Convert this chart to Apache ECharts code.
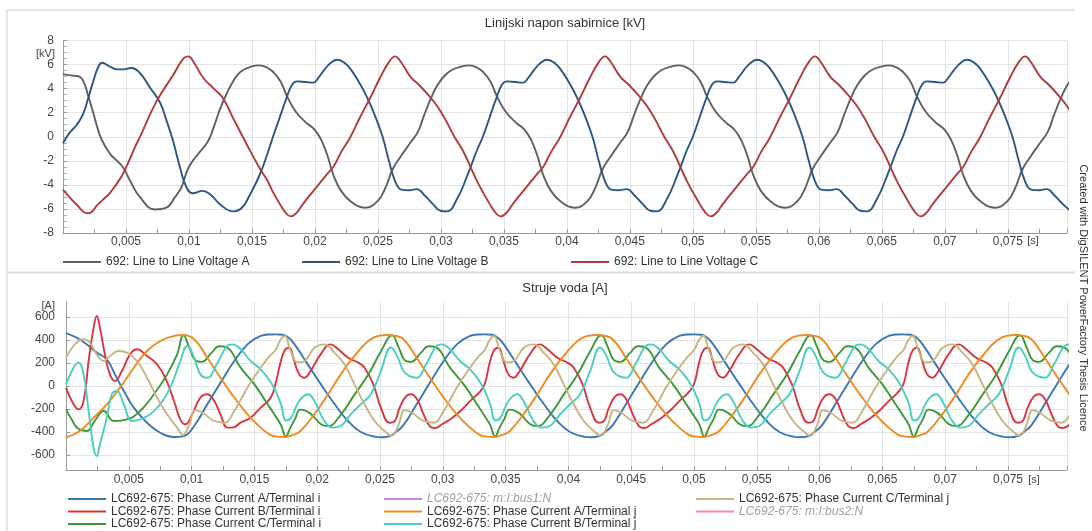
<!DOCTYPE html>
<html>
<head>
<meta charset="utf-8">
<script src="https://cdn.jsdelivr.net/npm/echarts@6/dist/echarts.min.js"></script>
<style>
html,body{margin:0;padding:0;background:#fff;}
#chart{width:1092px;height:531px;}
</style>
</head>
<body>
<div id="chart"></div>
<script>
// ---- text / names ----
const topTitle = 'Linijski napon sabirnice [kV]';
const bottomTitle = 'Struje voda [A]';
const voltNames = ['692: Line to Line Voltage A', '692: Line to Line Voltage B', '692: Line to Line Voltage C'];
const curNames = [
  'LC692-675: Phase Current A/Terminal i', 'LC692-675: Phase Current B/Terminal i', 'LC692-675: Phase Current C/Terminal i',
  'LC692-675: m:I:bus1:N', 'LC692-675: Phase Current A/Terminal j', 'LC692-675: Phase Current B/Terminal j',
  'LC692-675: Phase Current C/Terminal j', 'LC692-675: m:I:bus2:N'
];
const hiddenNames = ['LC692-675: m:I:bus1:N', 'LC692-675: m:I:bus2:N'];
const voltTicks = [-8, -6, -4, -2, 0, 2, 4, 6, 8];
const curTicks = [-600, -400, -200, 0, 200, 400, 600];
const timeUnit = '[s]';

// ---- series values: [time in ms, value] ----
const voltA = [[0,5.2],[0.6,5.1],[1.3,5.0],[1.7,4.4],[2.0,3.4],[2.4,2.0],[2.9,0.2],[3.3,-0.7],[3.8,-1.5],[4.3,-2.0],[4.8,-2.6],[5.3,-3.6],[6.1,-5.0],[7.3,-6.05],[8.2,-5.9],[8.9,-5.0],[9.4,-4.2],[9.95,-2.6],[10.6,-1.6],[11.5,-0.4],[12.0,0.9],[12.5,2.4],[13.0,3.6],[13.5,4.6],[14.1,5.4],[15.0,5.85],[15.6,5.93],[16.2,5.75],
[16.67,5.4],[17.27,4.6],[17.77,3.4],[18.47,2.1],[19.27,1.2],[19.97,0.6],[20.47,-0.2],[20.97,-1.5],[21.47,-3.2],[22.07,-4.5],[22.87,-5.4],[23.97,-5.9],[24.97,-5.35],[25.57,-4.3],[26.17,-2.7],[26.77,-1.7],[27.57,-0.5],[28.17,0.4],[28.67,1.8],[29.17,3.1],[29.67,4.2],[30.27,5.05],[30.87,5.55],[31.67,5.85],[32.27,5.93],[32.87,5.75],
[33.33,5.4],[33.93,4.6],[34.43,3.4],[35.13,2.1],[35.93,1.2],[36.63,0.6],[37.13,-0.2],[37.63,-1.5],[38.13,-3.2],[38.73,-4.5],[39.53,-5.4],[40.63,-5.9],[41.63,-5.35],[42.23,-4.3],[42.83,-2.7],[43.43,-1.7],[44.23,-0.5],[44.83,0.4],[45.33,1.8],[45.83,3.1],[46.33,4.2],[46.93,5.05],[47.53,5.55],[48.33,5.85],[48.93,5.93],[49.53,5.75],
[50,5.4],[50.6,4.6],[51.1,3.4],[51.8,2.1],[52.6,1.2],[53.3,0.6],[53.8,-0.2],[54.3,-1.5],[54.8,-3.2],[55.4,-4.5],[56.2,-5.4],[57.3,-5.9],[58.3,-5.35],[58.9,-4.3],[59.5,-2.7],[60.1,-1.7],[60.9,-0.5],[61.5,0.4],[62.0,1.8],[62.5,3.1],[63.0,4.2],[63.6,5.05],[64.2,5.55],[65.0,5.85],[65.6,5.93],[66.2,5.75],
[66.67,5.4],[67.27,4.6],[67.77,3.4],[68.47,2.1],[69.27,1.2],[69.97,0.6],[70.47,-0.2],[70.97,-1.5],[71.47,-3.2],[72.07,-4.5],[72.87,-5.4],[73.97,-5.9],[74.97,-5.35],[75.57,-4.3],[76.17,-2.7],[76.77,-1.7],[77.57,-0.5],[78.17,0.4],[78.67,1.8],[79.17,3.1],[79.67,4.2],[80.27,5.05]];

const voltB = [[0,-0.55],[0.5,0.3],[1.1,1.0],[1.6,1.9],[2.0,3.2],[2.4,4.6],[2.8,5.8],[3.1,6.15],[3.7,5.85],[4.3,5.6],[4.8,5.6],[5.4,5.72],[6.1,5.3],[6.9,4.1],[7.7,2.85],[8.2,1.4],[8.75,-0.4],[9.3,-2.6],[9.8,-4.2],[10.3,-4.7],[11.1,-4.5],[11.7,-4.8],[12.5,-5.65],[13.5,-6.2],[14.2,-5.9],[14.8,-4.9],[15.6,-3.2],[16.2,-1.5],
[16.67,0.0],[17.17,1.5],[17.67,3.0],[18.17,4.3],[18.57,4.6],[19.27,4.55],[19.87,4.5],[20.27,4.9],[20.77,5.6],[21.27,6.15],[21.77,6.4],[22.27,6.2],[22.77,5.7],[23.57,4.4],[24.17,3.2],[24.67,2.0],[25.37,0.0],[25.87,-2.0],[26.37,-3.7],[26.87,-4.4],[27.47,-4.45],[28.07,-4.35],[28.77,-4.95],[29.37,-5.6],[29.97,-6.15],[30.47,-6.2],[31.27,-5.2],[32.07,-3.3],[32.87,-1.1],
[33.33,0.0],[33.83,1.5],[34.33,3.0],[34.83,4.3],[35.23,4.6],[35.93,4.55],[36.53,4.5],[36.93,4.9],[37.43,5.6],[37.93,6.15],[38.43,6.4],[38.93,6.2],[39.43,5.7],[40.23,4.4],[40.83,3.2],[41.33,2.0],[42.03,0.0],[42.53,-2.0],[43.03,-3.7],[43.53,-4.4],[44.13,-4.45],[44.73,-4.35],[45.43,-4.95],[46.03,-5.6],[46.63,-6.15],[47.13,-6.2],[47.93,-5.2],[48.73,-3.3],[49.53,-1.1],
[50,0.0],[50.5,1.5],[51.0,3.0],[51.5,4.3],[51.9,4.6],[52.6,4.55],[53.2,4.5],[53.6,4.9],[54.1,5.6],[54.6,6.15],[55.1,6.4],[55.6,6.2],[56.1,5.7],[56.9,4.4],[57.5,3.2],[58.0,2.0],[58.7,0.0],[59.2,-2.0],[59.7,-3.7],[60.2,-4.4],[60.8,-4.45],[61.4,-4.35],[62.1,-4.95],[62.7,-5.6],[63.3,-6.15],[63.8,-6.2],[64.6,-5.2],[65.4,-3.3],[66.2,-1.1],
[66.67,0.0],[67.17,1.5],[67.67,3.0],[68.17,4.3],[68.57,4.6],[69.27,4.55],[69.87,4.5],[70.27,4.9],[70.77,5.6],[71.27,6.15],[71.77,6.4],[72.27,6.2],[72.77,5.7],[73.57,4.4],[74.17,3.2],[74.67,2.0],[75.37,0.0],[75.87,-2.0],[76.37,-3.7],[76.87,-4.4],[77.47,-4.45],[78.07,-4.35],[78.77,-4.95],[79.37,-5.6],[79.97,-6.15]];

const voltC = [[0,-4.4],[0.5,-5.0],[1.1,-5.65],[1.9,-6.35],[2.2,-6.3],[2.7,-5.7],[3.2,-5.2],[3.7,-4.7],[4.2,-4.0],[4.7,-3.2],[5.2,-2.1],[5.7,-0.9],[6.2,0.2],[7.4,2.9],[8.76,5.15],[9.55,6.5],[9.95,6.68],[10.34,6.26],[11.14,4.88],[11.93,4.04],[12.7,3.2],[13.5,1.55],[14.6,-0.66],[15.6,-2.6],[16.2,-3.6],
[16.67,-4.6],[17.22,-5.6],[17.67,-6.3],[18.07,-6.62],[18.47,-6.4],[18.97,-5.7],[19.57,-4.9],[20.27,-4.0],[20.97,-3.1],[21.47,-2.5],[22.07,-1.3],[22.77,-0.1],[23.57,1.6],[24.37,3.2],[25.17,4.9],[25.87,6.2],[26.37,6.68],[26.77,6.3],[27.57,5.0],[28.27,4.3],[28.97,3.5],[29.67,2.6],[30.37,1.4],[31.07,0.0],[31.77,-1.2],[32.47,-2.8],[32.97,-3.9],
[33.33,-4.6],[33.88,-5.6],[34.33,-6.3],[34.73,-6.62],[35.13,-6.4],[35.63,-5.7],[36.23,-4.9],[36.93,-4.0],[37.63,-3.1],[38.13,-2.5],[38.73,-1.3],[39.43,-0.1],[40.23,1.6],[41.03,3.2],[41.83,4.9],[42.53,6.2],[43.03,6.68],[43.43,6.3],[44.23,5.0],[44.93,4.3],[45.63,3.5],[46.33,2.6],[47.03,1.4],[47.73,0.0],[48.43,-1.2],[49.13,-2.8],[49.63,-3.9],
[50,-4.6],[50.55,-5.6],[51.0,-6.3],[51.4,-6.62],[51.8,-6.4],[52.3,-5.7],[52.9,-4.9],[53.6,-4.0],[54.3,-3.1],[54.8,-2.5],[55.4,-1.3],[56.1,-0.1],[56.9,1.6],[57.7,3.2],[58.5,4.9],[59.2,6.2],[59.7,6.68],[60.1,6.3],[60.9,5.0],[61.6,4.3],[62.3,3.5],[63.0,2.6],[63.7,1.4],[64.4,0.0],[65.1,-1.2],[65.8,-2.8],[66.3,-3.9],
[66.67,-4.6],[67.22,-5.6],[67.67,-6.3],[68.07,-6.62],[68.47,-6.4],[68.97,-5.7],[69.57,-4.9],[70.27,-4.0],[70.97,-3.1],[71.47,-2.5],[72.07,-1.3],[72.77,-0.1],[73.57,1.6],[74.37,3.2],[75.17,4.9],[75.87,6.2],[76.37,6.68],[76.77,6.3],[77.57,5.0],[78.27,4.3],[78.97,3.5],[79.67,2.6],[80.37,1.4]];

const curAi = [[0,460],[0.85,420],[1.65,362],[2.45,290],[3.25,232],[3.9,101],[4.6,-43],[5.4,-188],[6.45,-319],[7.5,-406],[8.6,-443],[9.4,-435],[10.2,-348],[11.25,-159],[12.3,29],[13.4,217],[14.45,362],[15.5,435],[16.2,448],
[16.67,449],[17.27,445],[17.77,415],[18.2,362],[19.25,188],[20.3,14],[21.4,-159],[22.45,-304],[23.47,-400],[24.57,-440],[25.17,-445],[25.77,-435],[26.27,-400],[26.87,-340],[27.92,-159],[28.97,29],[30.07,217],[31.12,362],[32.17,435],[32.87,448],
[33.33,449],[33.93,445],[34.43,415],[34.86,362],[35.91,188],[36.96,14],[38.06,-159],[39.11,-304],[40.13,-400],[41.23,-440],[41.83,-445],[42.43,-435],[42.93,-400],[43.53,-340],[44.58,-159],[45.63,29],[46.73,217],[47.78,362],[48.83,435],[49.53,448],
[50,449],[50.6,445],[51.1,415],[51.53,362],[52.58,188],[53.63,14],[54.73,-159],[55.78,-304],[56.8,-400],[57.9,-440],[58.5,-445],[59.1,-435],[59.6,-400],[60.2,-340],[61.25,-159],[62.3,29],[63.4,217],[64.45,362],[65.5,435],[66.2,448],
[66.67,449],[67.27,445],[67.77,415],[68.2,362],[69.25,188],[70.3,14],[71.4,-159],[72.45,-304],[73.47,-400],[74.57,-440],[75.17,-445],[75.77,-435],[76.27,-400],[76.87,-340],[77.92,-159],[78.97,29],[80.07,217]];

const curBi = [[0,-14],[0.6,-159],[1.0,-203],[1.4,-130],[1.8,217],[2.2,507],[2.45,609],[2.7,507],[3.1,275],[3.5,101],[3.9,43],[4.45,130],[5.1,275],[5.65,319],[6.45,261],[7.25,188],[7.9,72],[8.6,-130],[9.1,-290],[9.5,-333],[10.05,-246],[10.7,-101],[11.25,-72],[11.8,-130],[12.3,-246],[12.85,-362],[13.25,-362],[13.9,-319],[14.7,-275],[15.5,-188],[16.3,-101],
[16.67,15],[17.07,200],[17.42,310],[17.77,333],[18.17,217],[18.57,101],[18.97,72],[19.47,130],[20.27,275],[21.07,362],[21.67,319],[22.47,246],[23.27,203],[23.77,159],[24.47,14],[25.07,-188],[25.77,-319],[26.17,-304],[26.57,-188],[27.07,-90],[27.47,-72],[27.97,-120],[28.47,-246],[28.97,-350],[29.37,-365],[29.97,-330],[30.77,-275],[31.57,-200],[32.37,-110],[32.87,-60],
[33.33,15],[33.73,200],[34.08,310],[34.43,333],[34.83,217],[35.23,101],[35.63,72],[36.13,130],[36.93,275],[37.73,362],[38.33,319],[39.13,246],[39.93,203],[40.43,159],[41.13,14],[41.73,-188],[42.43,-319],[42.83,-304],[43.23,-188],[43.73,-90],[44.13,-72],[44.63,-120],[45.13,-246],[45.63,-350],[46.03,-365],[46.63,-330],[47.43,-275],[48.23,-200],[49.03,-110],[49.53,-60],
[50,15],[50.4,200],[50.75,310],[51.1,333],[51.5,217],[51.9,101],[52.3,72],[52.8,130],[53.6,275],[54.4,362],[55.0,319],[55.8,246],[56.6,203],[57.1,159],[57.8,14],[58.4,-188],[59.1,-319],[59.5,-304],[59.9,-188],[60.4,-90],[60.8,-72],[61.3,-120],[61.8,-246],[62.3,-350],[62.7,-365],[63.3,-330],[64.1,-275],[64.9,-200],[65.7,-110],[66.2,-60],
[66.67,15],[67.07,200],[67.42,310],[67.77,333],[68.17,217],[68.57,101],[68.97,72],[69.47,130],[70.27,275],[71.07,362],[71.67,319],[72.47,246],[73.27,203],[73.77,159],[74.47,14],[75.07,-188],[75.77,-319],[76.17,-304],[76.57,-188],[77.07,-90],[77.47,-72],[77.97,-120],[78.47,-246],[78.97,-350],[79.37,-365],[79.97,-330]];

const curCi = [[0,-203],[0.5,-300],[0.9,-365],[1.65,-391],[2.3,-300],[3.0,-217],[3.8,-304],[4.85,-290],[5.9,-217],[7.0,-72],[8.05,101],[8.85,275],[9.35,440],[9.8,340],[10.3,225],[10.8,210],[11.6,290],[12.2,345],[12.8,335],[13.9,160],[15.0,14],[16.0,-150],
[16.67,-260],[17.12,-340],[17.5,-438],[17.87,-360],[18.22,-290],[18.67,-205],[19.47,-240],[20.27,-330],[20.87,-348],[21.87,-250],[22.97,-75],[24.07,100],[25.07,300],[25.97,440],[26.47,340],[26.97,225],[27.47,210],[28.27,290],[28.87,345],[29.47,335],[30.57,160],[31.67,14],[32.67,-150],
[33.33,-260],[33.78,-340],[34.16,-438],[34.53,-360],[34.88,-290],[35.33,-205],[36.13,-240],[36.93,-330],[37.53,-348],[38.53,-250],[39.63,-75],[40.73,100],[41.73,300],[42.63,440],[43.13,340],[43.63,225],[44.13,210],[44.93,290],[45.53,345],[46.13,335],[47.23,160],[48.33,14],[49.33,-150],
[50,-260],[50.45,-340],[50.83,-438],[51.2,-360],[51.55,-290],[52.0,-205],[52.8,-240],[53.6,-330],[54.2,-348],[55.2,-250],[56.3,-75],[57.4,100],[58.4,300],[59.3,440],[59.8,340],[60.3,225],[60.8,210],[61.6,290],[62.2,345],[62.8,335],[63.9,160],[65.0,14],[66.0,-150],
[66.67,-260],[67.12,-340],[67.5,-438],[67.87,-360],[68.22,-290],[68.67,-205],[69.47,-240],[70.27,-330],[70.87,-348],[71.87,-250],[72.97,-75],[74.07,100],[75.07,300],[75.97,440],[76.47,340],[76.97,225],[77.47,210],[78.27,290],[78.87,345],[79.47,335],[80.57,160]];

const curN1 = [];

const curAj = [[0,-449],[1.1,-391],[2.2,-275],[3.25,-159],[4.3,-14],[5.4,159],[6.45,304],[7.5,391],[8.6,435],[9.3,443],[10.2,406],[11.25,246],[12.3,72],[13.4,-101],[14.45,-246],[15.5,-362],[16.2,-420],
[16.67,-438],[17.47,-443],[18.07,-425],[18.67,-391],[19.77,-246],[20.87,-72],[21.87,101],[22.97,261],[24.07,391],[24.97,438],[25.67,443],[26.17,438],[26.87,406],[27.92,246],[28.97,72],[30.07,-101],[31.12,-246],[32.17,-362],[32.87,-420],
[33.33,-438],[34.13,-443],[34.73,-425],[35.33,-391],[36.43,-246],[37.53,-72],[38.53,101],[39.63,261],[40.73,391],[41.63,438],[42.33,443],[42.83,438],[43.53,406],[44.58,246],[45.63,72],[46.73,-101],[47.78,-246],[48.83,-362],[49.53,-420],
[50,-438],[50.8,-443],[51.4,-425],[52.0,-391],[53.1,-246],[54.2,-72],[55.2,101],[56.3,261],[57.4,391],[58.3,438],[59.0,443],[59.5,438],[60.2,406],[61.25,246],[62.3,72],[63.4,-101],[64.45,-246],[65.5,-362],[66.2,-420],
[66.67,-438],[67.47,-443],[68.07,-425],[68.67,-391],[69.77,-246],[70.87,-72],[71.87,101],[72.97,261],[74.07,391],[74.97,438],[75.67,443],[76.17,438],[76.87,406],[77.92,246],[78.97,72],[80.07,-101]];

const curBj = [[0,14],[0.6,159],[1.0,203],[1.4,101],[1.8,-217],[2.2,-540],[2.45,-609],[2.7,-507],[3.25,-275],[3.65,-72],[4.05,-43],[4.6,-159],[5.25,-304],[5.9,-290],[6.7,-246],[7.5,-159],[8.3,-14],[9.1,217],[9.65,348],[10.2,246],[10.7,101],[11.25,72],[12.0,188],[12.8,345],[13.25,362],[13.9,320],[14.7,217],[15.5,145],[16.2,50],
[16.67,-40],[17.12,-160],[17.52,-300],[17.92,-275],[18.57,-130],[19.27,-72],[19.77,-130],[20.57,-304],[21.27,-362],[21.87,-348],[22.67,-246],[23.47,-159],[24.27,-72],[25.07,130],[25.87,335],[26.37,260],[26.87,130],[27.37,85],[27.92,72],[28.67,188],[29.47,345],[29.92,362],[30.57,320],[31.37,217],[32.17,145],[32.87,50],
[33.33,-40],[33.78,-160],[34.18,-300],[34.58,-275],[35.23,-130],[35.93,-72],[36.43,-130],[37.23,-304],[37.93,-362],[38.53,-348],[39.33,-246],[40.13,-159],[40.93,-72],[41.73,130],[42.53,335],[43.03,260],[43.53,130],[44.03,85],[44.58,72],[45.33,188],[46.13,345],[46.58,362],[47.23,320],[48.03,217],[48.83,145],[49.53,50],
[50,-40],[50.45,-160],[50.85,-300],[51.25,-275],[51.9,-130],[52.6,-72],[53.1,-130],[53.9,-304],[54.6,-362],[55.2,-348],[56.0,-246],[56.8,-159],[57.6,-72],[58.4,130],[59.2,335],[59.7,260],[60.2,130],[60.7,85],[61.25,72],[62.0,188],[62.8,345],[63.25,362],[63.9,320],[64.7,217],[65.5,145],[66.2,50],
[66.67,-40],[67.12,-160],[67.52,-300],[67.92,-275],[68.57,-130],[69.27,-72],[69.77,-130],[70.57,-304],[71.27,-362],[71.87,-348],[72.67,-246],[73.47,-159],[74.27,-72],[75.07,130],[75.87,335],[76.37,260],[76.87,130],[77.37,85],[77.92,72],[78.67,188],[79.47,345],[79.92,362],[80.57,320]];

const curCj = [[0,246],[0.7,362],[1.4,406],[1.9,377],[2.45,275],[3.0,217],[3.5,261],[4.2,304],[4.85,290],[5.65,217],[6.45,72],[7.25,-101],[8.05,-246],[8.85,-362],[9.3,-425],[9.8,-340],[10.3,-210],[10.9,-235],[11.8,-304],[12.6,-319],[13.4,-217],[14.45,-14],[15.5,159],[16.2,260],
[16.67,310],[17.07,400],[17.42,435],[17.87,310],[18.47,205],[18.97,215],[19.77,330],[20.57,362],[21.37,290],[22.17,188],[22.97,14],[23.77,-159],[24.57,-304],[25.37,-391],[25.92,-432],[26.47,-340],[26.97,-210],[27.57,-235],[28.47,-304],[29.27,-319],[30.07,-217],[31.12,-14],[32.17,159],[32.87,260],
[33.33,310],[33.73,400],[34.08,435],[34.53,310],[35.13,205],[35.63,215],[36.43,330],[37.23,362],[38.03,290],[38.83,188],[39.63,14],[40.43,-159],[41.23,-304],[42.03,-391],[42.58,-432],[43.13,-340],[43.63,-210],[44.23,-235],[45.13,-304],[45.93,-319],[46.73,-217],[47.78,-14],[48.83,159],[49.53,260],
[50,310],[50.4,400],[50.75,435],[51.2,310],[51.8,205],[52.3,215],[53.1,330],[53.9,362],[54.7,290],[55.5,188],[56.3,14],[57.1,-159],[57.9,-304],[58.7,-391],[59.25,-432],[59.8,-340],[60.3,-210],[60.9,-235],[61.8,-304],[62.6,-319],[63.4,-217],[64.45,-14],[65.5,159],[66.2,260],
[66.67,310],[67.07,400],[67.42,435],[67.87,310],[68.47,205],[68.97,215],[69.77,330],[70.57,362],[71.37,290],[72.17,188],[72.97,14],[73.77,-159],[74.57,-304],[75.37,-391],[75.92,-432],[76.47,-340],[76.97,-210],[77.57,-235],[78.47,-304],[79.27,-319],[80.07,-217]];

const curN2 = [];

// ---- styling ----
const voltColors = ['#606060', '#2b5784', '#b13a3a'];
const curColors = ['#3b77b5', '#d8353f', '#3a9a34', '#c58ad8', '#ef8b1f', '#45d0c0', '#c8b47e', '#f08bb0'];
const FONT = '"Liberation Sans", Arial, Helvetica, sans-serif';

const chart = echarts.init(document.getElementById('chart'), null, {renderer: 'canvas'});

function fmtTime(v) {
  if (v <= 0 || v > 75.5) return '';
  return String(v / 1000).replace('.', ',');
}

function xAxisCfg(gridIndex, margin) {
  return {
    type: 'value', gridIndex: gridIndex, min: 0, max: 79.7, interval: 5,
    axisLine: {show: true, onZero: false, lineStyle: {color: '#9a9a9a', width: 1}},
    axisTick: {show: true, inside: true, length: 4, lineStyle: {color: '#9a9a9a'}},
    minorTick: {show: true, splitNumber: 2, length: 4, lineStyle: {color: '#9a9a9a'}},
    splitLine: {show: true, lineStyle: {color: '#e4e4e4', width: 1}},
    axisLabel: {formatter: fmtTime, color: '#444', fontSize: 12, margin: margin, fontFamily: FONT, showMaxLabel: false},
  };
}

const curSeriesData = [curAi, curBi, curCi, curN1, curAj, curBj, curCj, curN2];

const series = [];
voltNames.forEach((n, i) => {
  series.push({
    name: n, type: 'line', xAxisIndex: 0, yAxisIndex: 0,
    data: [voltA, voltB, voltC][i], showSymbol: false, symbol: 'none',
    smooth: 0.45, clip: true,
    lineStyle: {color: voltColors[i], width: 1.9},
    itemStyle: {color: voltColors[i]},
  });
});
curNames.forEach((n, i) => {
  series.push({
    name: n, type: 'line', xAxisIndex: 1, yAxisIndex: 1,
    data: curSeriesData[i], showSymbol: false, symbol: 'none',
    smooth: 0.45, clip: true,
    lineStyle: {color: curColors[i], width: 1.9},
    itemStyle: {color: curColors[i]},
  });
});

function legendItem(name, left, top) {
  const hidden = hiddenNames.indexOf(name) >= 0;
  return {
    data: [{name: name, textStyle: hidden ? {fontStyle: 'italic', color: '#a0a0a0'} : {}}],
    left: left, top: top, padding: 0, icon: 'rect', itemWidth: 38, itemHeight: 2, itemGap: 0,
    itemStyle: {borderWidth: 0},
    textStyle: {fontSize: 12, color: '#333', fontFamily: FONT},
    selectedMode: false,
  };
}

const legends = [
  legendItem(voltNames[0], 63, 256),
  legendItem(voltNames[1], 302, 256),
  legendItem(voltNames[2], 571, 256),
  legendItem(curNames[0], 68, 493),
  legendItem(curNames[1], 68, 505.5),
  legendItem(curNames[2], 68, 518),
  legendItem(curNames[3], 384, 493),
  legendItem(curNames[4], 384, 505.5),
  legendItem(curNames[5], 384, 518),
  legendItem(curNames[6], 696, 493),
  legendItem(curNames[7], 696, 505.5),
];

const option = {
  animation: false,
  backgroundColor: '#ffffff',
  textStyle: {fontFamily: FONT},
  title: [
    {text: topTitle, left: 565, top: 17, padding: 0, textAlign: 'center',
     textStyle: {fontSize: 13, fontWeight: 'normal', color: '#333', fontFamily: FONT}},
    {text: bottomTitle, left: 565, top: 282, padding: 0, textAlign: 'center',
     textStyle: {fontSize: 13, fontWeight: 'normal', color: '#333', fontFamily: FONT}},
  ],
  legend: legends,
  grid: [
    {left: 63, right: 25, top: 40.5, height: 192.5, containLabel: false},
    {left: 66, right: 25, top: 302, height: 168, containLabel: false},
  ],
  xAxis: [xAxisCfg(0, 3), xAxisCfg(1, 4)],
  yAxis: [
    {
      type: 'value', gridIndex: 0, min: -8, max: 8, interval: 2,
      axisLine: {show: true, lineStyle: {color: '#9a9a9a'}},
      axisTick: {show: true, inside: true, length: 4, lineStyle: {color: '#9a9a9a'}},
      minorTick: {show: true, splitNumber: 4, length: 4, lineStyle: {color: '#b0b0b0'}},
      splitLine: {show: true, lineStyle: {color: '#e4e4e4'}},
      axisLabel: {color: '#444', fontSize: 12, margin: 9, fontFamily: FONT, customValues: voltTicks},
    },
    {
      type: 'value', gridIndex: 1, min: -730, max: 730,
      axisLine: {show: true, lineStyle: {color: '#9a9a9a'}},
      axisTick: {show: true, inside: true, length: 4, lineStyle: {color: '#9a9a9a'}, customValues: curTicks},
      splitLine: {show: true, lineStyle: {color: '#e4e4e4'}},
      axisLabel: {color: '#444', fontSize: 12, margin: 11, fontFamily: FONT, customValues: curTicks},
    },
  ],
  graphic: [
    {type: 'line', shape: {x1: 7, y1: 10, x2: 1075, y2: 10}, style: {stroke: '#dddddd', lineWidth: 1.5}, silent: true},
    {type: 'line', shape: {x1: 7, y1: 10, x2: 7, y2: 531}, style: {stroke: '#dddddd', lineWidth: 1.5}, silent: true},
    {type: 'line', shape: {x1: 7, y1: 272.5, x2: 1075, y2: 272.5}, style: {stroke: '#dddddd', lineWidth: 2}, silent: true},
    {type: 'text', x: 55, y: 53.5, style: {text: '[kV]', align: 'right', verticalAlign: 'middle', fill: '#444', font: '11px ' + FONT}, silent: true},
    {type: 'text', x: 55, y: 306, style: {text: '[A]', align: 'right', verticalAlign: 'middle', fill: '#444', font: '11px ' + FONT}, silent: true},
    {type: 'text', x: 1033, y: 241, style: {text: timeUnit, align: 'center', verticalAlign: 'middle', fill: '#444', font: '11px ' + FONT}, silent: true},
    {type: 'text', x: 1034, y: 480, style: {text: timeUnit, align: 'center', verticalAlign: 'middle', fill: '#444', font: '11px ' + FONT}, silent: true},
    {type: 'text', x: 1083, y: 298, rotation: -Math.PI / 2,
     style: {text: 'Created with DigSILENT PowerFactory Thesis Licence', align: 'center', verticalAlign: 'middle', fill: '#333',
             font: '11px "Liberation Sans Narrow", "Liberation Sans", Arial, sans-serif'}, silent: true},
  ],
  series: series,
};

chart.setOption(option);
</script>
</body>
</html>
